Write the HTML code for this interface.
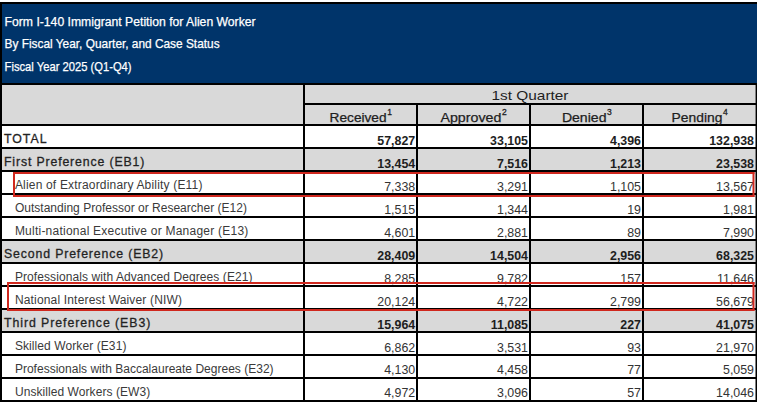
<!DOCTYPE html>
<html><head><meta charset="utf-8"><style>
html,body{margin:0;padding:0;background:#fff;width:757px;height:406px;overflow:hidden}
svg{display:block}
text{font-family:"Liberation Sans",sans-serif}
</style></head><body><svg width="757" height="406" viewBox="0 0 757 406" font-family="Liberation Sans, sans-serif"><rect x="2.00" y="4.00" width="755.00" height="79.00" fill="#00346A"/><rect x="2.00" y="85.00" width="753.00" height="39.00" fill="#D9D9D9"/><rect x="2.00" y="149.00" width="753.00" height="21.00" fill="#D9D9D9"/><rect x="2.00" y="241.00" width="753.00" height="21.00" fill="#D9D9D9"/><rect x="2.00" y="310.00" width="753.00" height="21.00" fill="#D9D9D9"/><rect x="0.00" y="2.00" width="757.00" height="2.00" fill="#000"/><rect x="0.00" y="2.00" width="2.00" height="400.00" fill="#000"/><rect x="0.00" y="83.00" width="757.00" height="2.00" fill="#000"/><rect x="303.00" y="103.00" width="454.00" height="2.00" fill="#000"/><rect x="0.00" y="124.00" width="757.00" height="2.00" fill="#000"/><rect x="0.00" y="147.00" width="757.00" height="2.00" fill="#000"/><rect x="0.00" y="170.00" width="757.00" height="2.00" fill="#000"/><rect x="0.00" y="193.00" width="757.00" height="2.00" fill="#000"/><rect x="0.00" y="216.00" width="757.00" height="2.00" fill="#000"/><rect x="0.00" y="239.00" width="757.00" height="2.00" fill="#000"/><rect x="0.00" y="262.00" width="757.00" height="2.00" fill="#000"/><rect x="0.00" y="285.00" width="757.00" height="2.00" fill="#000"/><rect x="0.00" y="308.00" width="757.00" height="2.00" fill="#000"/><rect x="0.00" y="331.00" width="757.00" height="2.00" fill="#000"/><rect x="0.00" y="354.00" width="757.00" height="2.00" fill="#000"/><rect x="0.00" y="377.00" width="757.00" height="2.00" fill="#000"/><rect x="0.00" y="400.00" width="757.00" height="2.00" fill="#000"/><rect x="303.00" y="85.00" width="2.00" height="315.00" fill="#000"/><rect x="416.00" y="103.00" width="2.00" height="297.00" fill="#000"/><rect x="529.00" y="103.00" width="2.00" height="297.00" fill="#000"/><rect x="642.00" y="103.00" width="2.00" height="297.00" fill="#000"/><rect x="755.50" y="83.00" width="1.50" height="319.00" fill="#000"/><text x="4.60" y="26.20" font-size="12.2" fill="#fff" textLength="251.00" lengthAdjust="spacingAndGlyphs" text-anchor="start" stroke="#fff" stroke-width="0.25">Form I-140 Immigrant Petition for Alien Worker</text><text x="4.60" y="47.80" font-size="12.2" fill="#fff" textLength="215.00" lengthAdjust="spacingAndGlyphs" text-anchor="start" stroke="#fff" stroke-width="0.25">By Fiscal Year, Quarter, and Case Status</text><text x="4.60" y="70.50" font-size="12.2" fill="#fff" textLength="127.00" lengthAdjust="spacingAndGlyphs" text-anchor="start" stroke="#fff" stroke-width="0.25">Fiscal Year 2025 (Q1-Q4)</text><text x="491.50" y="100.00" font-size="13" fill="#1E1E1E" textLength="77.00" lengthAdjust="spacingAndGlyphs" text-anchor="start">1st Quarter</text><text x="329.60" y="122.00" font-size="12.5" fill="#1E1E1E" textLength="57.00" lengthAdjust="spacingAndGlyphs" text-anchor="start" stroke="#1E1E1E" stroke-width="0.25">Received</text><text x="387.20" y="115.40" font-size="8.5" fill="#1E1E1E" text-anchor="start" stroke="#1E1E1E" stroke-width="0.3">1</text><text x="440.50" y="122.00" font-size="12.5" fill="#1E1E1E" textLength="60.80" lengthAdjust="spacingAndGlyphs" text-anchor="start" stroke="#1E1E1E" stroke-width="0.25">Approved</text><text x="501.90" y="115.40" font-size="8.5" fill="#1E1E1E" text-anchor="start" stroke="#1E1E1E" stroke-width="0.3">2</text><text x="561.90" y="122.00" font-size="12.5" fill="#1E1E1E" textLength="44.60" lengthAdjust="spacingAndGlyphs" text-anchor="start" stroke="#1E1E1E" stroke-width="0.25">Denied</text><text x="607.10" y="115.40" font-size="8.5" fill="#1E1E1E" text-anchor="start" stroke="#1E1E1E" stroke-width="0.3">3</text><text x="671.60" y="122.00" font-size="12.5" fill="#1E1E1E" textLength="50.80" lengthAdjust="spacingAndGlyphs" text-anchor="start" stroke="#1E1E1E" stroke-width="0.25">Pending</text><text x="723.00" y="115.40" font-size="8.5" fill="#1E1E1E" text-anchor="start" stroke="#1E1E1E" stroke-width="0.3">4</text><text x="4.00" y="142.96" font-size="12.3" fill="#1E1E1E" textLength="42.50" lengthAdjust="spacing" text-anchor="start" stroke="#262626" stroke-width="0.3">TOTAL</text><text x="415.20" y="144.86" font-size="12.4" fill="#1E1E1E" font-weight="bold" text-anchor="end">57,827</text><text x="528.00" y="144.86" font-size="12.4" fill="#1E1E1E" font-weight="bold" text-anchor="end">33,105</text><text x="641.00" y="144.86" font-size="12.4" fill="#1E1E1E" font-weight="bold" text-anchor="end">4,396</text><text x="754.00" y="144.86" font-size="12.4" fill="#1E1E1E" font-weight="bold" text-anchor="end">132,938</text><text x="4.00" y="165.92" font-size="12.3" fill="#1E1E1E" textLength="140.30" lengthAdjust="spacing" text-anchor="start" stroke="#262626" stroke-width="0.3">First Preference (EB1)</text><text x="415.20" y="167.82" font-size="12.4" fill="#1E1E1E" font-weight="bold" text-anchor="end">13,454</text><text x="528.00" y="167.82" font-size="12.4" fill="#1E1E1E" font-weight="bold" text-anchor="end">7,516</text><text x="641.00" y="167.82" font-size="12.4" fill="#1E1E1E" font-weight="bold" text-anchor="end">1,213</text><text x="754.00" y="167.82" font-size="12.4" fill="#1E1E1E" font-weight="bold" text-anchor="end">23,538</text><text x="14.90" y="188.88" font-size="12" fill="#3a3a3a" textLength="187.50" lengthAdjust="spacing" text-anchor="start">Alien of Extraordinary Ability (E11)</text><text x="415.20" y="190.78" font-size="12.4" fill="#333" text-anchor="end">7,338</text><text x="528.00" y="190.78" font-size="12.4" fill="#333" text-anchor="end">3,291</text><text x="641.00" y="190.78" font-size="12.4" fill="#333" text-anchor="end">1,105</text><text x="754.00" y="190.78" font-size="12.4" fill="#333" text-anchor="end">13,567</text><text x="14.90" y="211.84" font-size="12" fill="#3a3a3a" textLength="232.10" lengthAdjust="spacing" text-anchor="start">Outstanding Professor or Researcher (E12)</text><text x="415.20" y="213.74" font-size="12.4" fill="#333" text-anchor="end">1,515</text><text x="528.00" y="213.74" font-size="12.4" fill="#333" text-anchor="end">1,344</text><text x="641.00" y="213.74" font-size="12.4" fill="#333" text-anchor="end">19</text><text x="754.00" y="213.74" font-size="12.4" fill="#333" text-anchor="end">1,981</text><text x="14.90" y="234.80" font-size="12" fill="#3a3a3a" textLength="233.40" lengthAdjust="spacing" text-anchor="start">Multi-national Executive or Manager (E13)</text><text x="415.20" y="236.70" font-size="12.4" fill="#333" text-anchor="end">4,601</text><text x="528.00" y="236.70" font-size="12.4" fill="#333" text-anchor="end">2,881</text><text x="641.00" y="236.70" font-size="12.4" fill="#333" text-anchor="end">89</text><text x="754.00" y="236.70" font-size="12.4" fill="#333" text-anchor="end">7,990</text><text x="4.00" y="257.76" font-size="12.3" fill="#1E1E1E" textLength="159.10" lengthAdjust="spacing" text-anchor="start" stroke="#262626" stroke-width="0.3">Second Preference (EB2)</text><text x="415.20" y="259.66" font-size="12.4" fill="#1E1E1E" font-weight="bold" text-anchor="end">28,409</text><text x="528.00" y="259.66" font-size="12.4" fill="#1E1E1E" font-weight="bold" text-anchor="end">14,504</text><text x="641.00" y="259.66" font-size="12.4" fill="#1E1E1E" font-weight="bold" text-anchor="end">2,956</text><text x="754.00" y="259.66" font-size="12.4" fill="#1E1E1E" font-weight="bold" text-anchor="end">68,325</text><text x="14.90" y="280.72" font-size="12" fill="#3a3a3a" textLength="237.60" lengthAdjust="spacing" text-anchor="start">Professionals with Advanced Degrees (E21)</text><text x="415.20" y="282.62" font-size="12.4" fill="#333" text-anchor="end">8,285</text><text x="528.00" y="282.62" font-size="12.4" fill="#333" text-anchor="end">9,782</text><text x="641.00" y="282.62" font-size="12.4" fill="#333" text-anchor="end">157</text><text x="754.00" y="282.62" font-size="12.4" fill="#333" text-anchor="end">11,646</text><text x="14.90" y="303.68" font-size="12" fill="#3a3a3a" textLength="167.10" lengthAdjust="spacing" text-anchor="start">National Interest Waiver (NIW)</text><text x="415.20" y="305.58" font-size="12.4" fill="#333" text-anchor="end">20,124</text><text x="528.00" y="305.58" font-size="12.4" fill="#333" text-anchor="end">4,722</text><text x="641.00" y="305.58" font-size="12.4" fill="#333" text-anchor="end">2,799</text><text x="754.00" y="305.58" font-size="12.4" fill="#333" text-anchor="end">56,679</text><text x="4.00" y="326.64" font-size="12.3" fill="#1E1E1E" textLength="146.30" lengthAdjust="spacing" text-anchor="start" stroke="#262626" stroke-width="0.3">Third Preference (EB3)</text><text x="415.20" y="328.54" font-size="12.4" fill="#1E1E1E" font-weight="bold" text-anchor="end">15,964</text><text x="528.00" y="328.54" font-size="12.4" fill="#1E1E1E" font-weight="bold" text-anchor="end">11,085</text><text x="641.00" y="328.54" font-size="12.4" fill="#1E1E1E" font-weight="bold" text-anchor="end">227</text><text x="754.00" y="328.54" font-size="12.4" fill="#1E1E1E" font-weight="bold" text-anchor="end">41,075</text><text x="14.90" y="349.60" font-size="12" fill="#3a3a3a" textLength="111.50" lengthAdjust="spacing" text-anchor="start">Skilled Worker (E31)</text><text x="415.20" y="351.50" font-size="12.4" fill="#333" text-anchor="end">6,862</text><text x="528.00" y="351.50" font-size="12.4" fill="#333" text-anchor="end">3,531</text><text x="641.00" y="351.50" font-size="12.4" fill="#333" text-anchor="end">93</text><text x="754.00" y="351.50" font-size="12.4" fill="#333" text-anchor="end">21,970</text><text x="14.90" y="372.56" font-size="12" fill="#3a3a3a" textLength="258.70" lengthAdjust="spacing" text-anchor="start">Professionals with Baccalaureate Degrees (E32)</text><text x="415.20" y="374.46" font-size="12.4" fill="#333" text-anchor="end">4,130</text><text x="528.00" y="374.46" font-size="12.4" fill="#333" text-anchor="end">4,458</text><text x="641.00" y="374.46" font-size="12.4" fill="#333" text-anchor="end">77</text><text x="754.00" y="374.46" font-size="12.4" fill="#333" text-anchor="end">5,059</text><text x="14.90" y="395.52" font-size="12" fill="#3a3a3a" textLength="135.30" lengthAdjust="spacing" text-anchor="start">Unskilled Workers (EW3)</text><text x="415.20" y="397.42" font-size="12.4" fill="#333" text-anchor="end">4,972</text><text x="528.00" y="397.42" font-size="12.4" fill="#333" text-anchor="end">3,096</text><text x="641.00" y="397.42" font-size="12.4" fill="#333" text-anchor="end">57</text><text x="754.00" y="397.42" font-size="12.4" fill="#333" text-anchor="end">14,046</text><rect x="13.00" y="172.00" width="741.50" height="2.00" fill="#D0281E"/><rect x="13.00" y="195.00" width="741.50" height="2.00" fill="#D0281E"/><rect x="13.00" y="172.00" width="2.00" height="25.00" fill="#D0281E"/><rect x="752.50" y="172.00" width="2.00" height="25.00" fill="#D0281E"/><rect x="7.00" y="282.00" width="747.50" height="2.00" fill="#D0281E"/><rect x="7.00" y="309.00" width="747.50" height="2.00" fill="#D0281E"/><rect x="7.00" y="282.00" width="2.00" height="29.00" fill="#D0281E"/><rect x="752.50" y="282.00" width="2.00" height="29.00" fill="#D0281E"/></svg></body></html>
